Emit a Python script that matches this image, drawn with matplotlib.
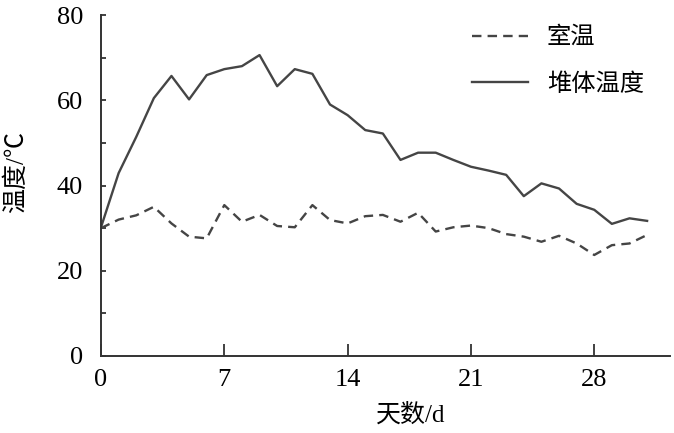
import numpy as np
import matplotlib.pyplot as plt
from matplotlib.ticker import MultipleLocator

plt.rcParams['font.family'] = ['Liberation Serif', 'Noto Sans CJK SC']
plt.rcParams['axes.unicode_minus'] = False

# data
days = list(range(32))
room_temp = [30.0, 32.0, 33.0, 35.0, 31.1, 28.0, 27.6, 35.4, 31.5, 33.1,
             30.5, 30.2, 35.4, 31.9, 31.1, 32.8, 33.1, 31.5, 33.6, 29.2,
             30.2, 30.6, 30.0, 28.6, 28.0, 26.8, 28.2, 26.4, 23.7, 26.0,
             26.4, 28.4]
pile_temp = [30.2, 42.9, 51.4, 60.5, 65.7, 60.2, 65.9, 67.3, 68.0, 70.6,
             63.3, 67.3, 66.2, 59.0, 56.5, 53.0, 52.2, 46.0, 47.7, 47.7,
             46.0, 44.4, 43.5, 42.5, 37.5, 40.5, 39.3, 35.7, 34.3, 31.0,
             32.3, 31.7]
labels = ['室温', '堆体温度']
xticks = [0, 7, 14, 21, 28]
yticks = [0, 20, 40, 60, 80]

fig = plt.figure(figsize=(6.74, 4.33), dpi=100)
ax = fig.add_axes([101 / 674, 1 - 356 / 433, 569 / 674, 341 / 433])

col = '#454545'
ax.plot(days, room_temp, color=col, lw=1.7, ls=(0, (4, 2.6)), label=labels[0])
ax.plot(days, pile_temp, color=col, lw=1.7, label=labels[1])

ax.set_xlim(0, 32.3)
ax.set_ylim(0, 80)
ax.set_xticks(xticks)
ax.set_yticks(yticks)
ax.yaxis.set_minor_locator(MultipleLocator(10))

for s in ['top', 'right']:
    ax.spines[s].set_visible(False)
for s in ['left', 'bottom']:
    ax.spines[s].set_linewidth(1.4)
    ax.spines[s].set_color('#333333')

fs = 19
ax.tick_params(axis='x', direction='in', length=9, width=1.3, pad=9,
               labelsize=fs, color='#333333')
ax.tick_params(axis='y', which='both', direction='in', length=3.5, width=1.3,
               pad=13, labelsize=fs, color='#333333')

ax.set_xlabel('天数/d', fontsize=18)
ax.set_ylabel('温度/℃', fontsize=18)
ax.xaxis.set_label_coords((411 - 101) / 569, (356 - 403) / 341)
ax.yaxis.set_label_coords((28 - 101) / 569, (356 - 172) / 341)

leg = ax.legend(loc='upper left', bbox_to_anchor=(472 / 674, 1 - 27 / 433),
                bbox_transform=fig.transFigure, frameon=False, fontsize=17.5,
                handlelength=2.3, handletextpad=0.78, labelspacing=1.0,
                borderaxespad=0, borderpad=0)

fig.savefig('out.png', dpi=100)
